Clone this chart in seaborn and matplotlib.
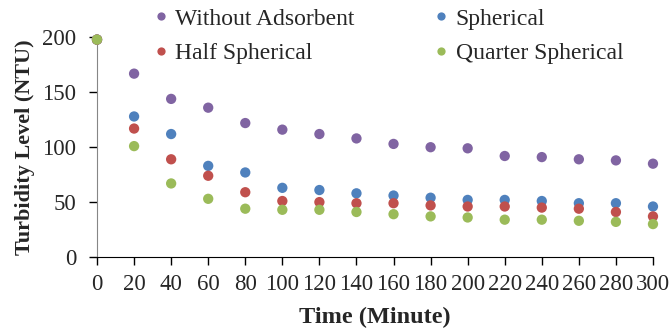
import pandas as pd
import seaborn as sns
from matplotlib import pyplot as plt

# data
time = [0, 20, 40, 60, 80, 100, 120, 140, 160, 180, 200, 220, 240, 260, 280, 300]
without_adsorbent = [198, 167, 144, 136, 122, 116, 112, 108, 103, 100, 99, 92, 91, 89, 88, 85]
spherical = [198, 128, 112, 83, 77, 63, 61, 58, 56, 54, 52, 52, 51, 49, 49, 46]
half_spherical = [198, 117, 89, 74, 59, 51, 50, 49, 49, 47, 46, 46, 45, 44, 41, 37]
quarter_spherical = [198, 101, 67, 53, 44, 43, 43, 41, 39, 37, 36, 34, 34, 33, 32, 30]

series = {'Without Adsorbent': without_adsorbent,
          'Spherical': spherical,
          'Half Spherical': half_spherical,
          'Quarter Spherical': quarter_spherical}
colors = {'Without Adsorbent': '#8064A2',
          'Spherical': '#4F81BD',
          'Half Spherical': '#C0504D',
          'Quarter Spherical': '#9BBB59'}

df = pd.concat([pd.DataFrame({'Time': time, 'Turbidity': v, 'Series': k}) for k, v in series.items()])

sns.set_style('white')
plt.rcParams['font.family'] = ['Liberation Serif', 'DejaVu Serif']

fig = plt.figure(figsize=(6.7, 3.34), dpi=100)
ax = fig.add_axes([0.1448, 0.2305, 0.8298, 0.6575])
sns.scatterplot(data=df, x='Time', y='Turbidity', hue='Series', hue_order=list(series.keys()),
                palette=colors, s=55, edgecolor='none', ax=ax, clip_on=False, zorder=3)

ax.set_xlim(0, 300)
ax.set_ylim(0, 200)
ax.set_xticks(time)
ax.set_yticks([0, 50, 100, 150, 200])
ax.tick_params(axis='both', direction='out', length=6, width=1, labelsize=16.5,
               bottom=True, left=True, color='black')
ax.tick_params(axis='x', pad=6)
ax.tick_params(axis='y', pad=9)
for s in ['top', 'right']:
    ax.spines[s].set_visible(False)
ax.spines['left'].set_color('#868686')
ax.spines['bottom'].set_color('black')
ax.set_xlabel('Time (Minute)', fontsize=17.5, fontweight='bold', labelpad=9)
ax.set_ylabel('Turbidity Level (NTU)', fontsize=16, fontweight='bold', labelpad=5)

handles, labels = ax.get_legend_handles_labels()
order = ['Without Adsorbent', 'Half Spherical', 'Spherical', 'Quarter Spherical']
hmap = dict(zip(labels, handles))
ax.legend([hmap[o] for o in order], order, ncol=2, frameon=False, fontsize=17,
          loc='upper left', bbox_to_anchor=(0.215, 1.004), bbox_transform=fig.transFigure,
          handlelength=0.6, handletextpad=0.3, columnspacing=3.4, labelspacing=0.55,
          markerscale=0.8, borderaxespad=0)

fig.savefig('out.png', dpi=100)
